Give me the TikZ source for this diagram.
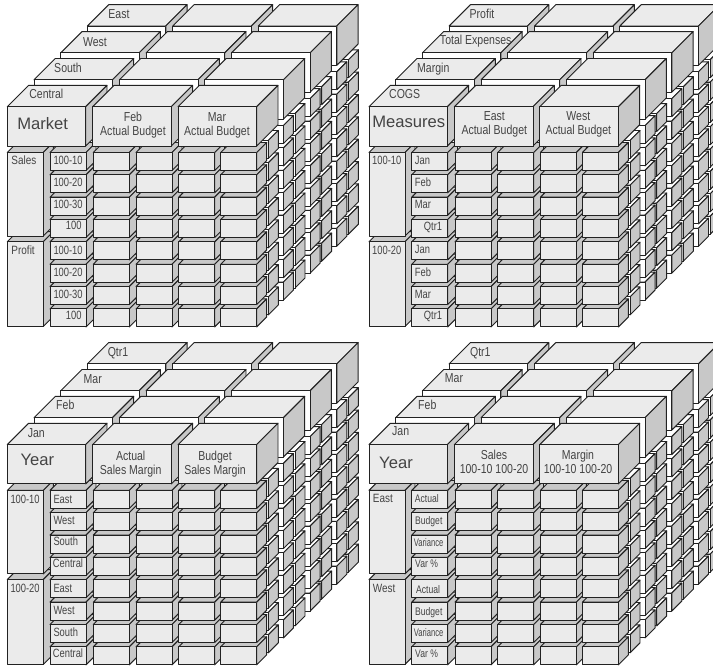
\documentclass[tikz,border=0pt]{standalone}
\usepackage{fontspec}
\setmainfont{Liberation Sans}
\newfontfamily\nara[FakeStretch=0.81]{Liberation Sans}
\newfontfamily\narb[FakeStretch=0.78]{Liberation Sans}
\newfontfamily\narc[FakeStretch=0.69]{Liberation Sans}
\newfontfamily\nard[FakeStretch=0.83]{Liberation Sans}
\definecolor{facegray}{HTML}{EBEBEB}
\definecolor{sidegray}{HTML}{C8C8C8}
\definecolor{edgegray}{HTML}{222222}
\definecolor{txtgray}{HTML}{444444}
% x, y, w, h, depth, front, top, side
\newcommand{\blk}[8]{%
  \filldraw[fill=#7] (#1,#2)--({#1+#5},{#2-#5})--({#1+#3+#5},{#2-#5})--({#1+#3},#2)--cycle;
  \filldraw[fill=#8] ({#1+#3},#2)--({#1+#3+#5},{#2-#5})--({#1+#3+#5},{#2+#4-#5})--({#1+#3},{#2+#4})--cycle;
  \filldraw[fill=#6] (#1,#2) rectangle ({#1+#3},{#2+#4});
}
\newcommand{\cubepanel}[2]{%
  \begin{scope}[shift={(#1,#2)},edgegray,line width=0.95pt,line join=round]
    % three rear layers, far to near
    \foreach \L in {3,2,1}{
      \pgfmathsetmacro{\ox}{26.7*\L}
      \pgfmathsetmacro{\oy}{-26.9*\L}
      \foreach \r in {7,6,...,0}{
        \pgfmathsetmacro{\ry}{152.5+22.35*\r+\oy}
        \blk{\ox+232.3}{\ry-12}{36}{18}{10}{white}{white}{sidegray}
      }
      \foreach \r in {7,6,...,0}{
        \pgfmathsetmacro{\ry}{152.5+22.35*\r+\oy}
        \blk{\ox+220.7}{\ry}{36}{18}{10}{white}{white}{sidegray}
      }
      \blk{\ox+7.3}{\oy+106.7}{78.4}{39.3}{21.3}{white}{facegray}{sidegray}
      \blk{\ox+92.7}{\oy+106.7}{78.6}{39.3}{21.3}{white}{facegray}{sidegray}
      \blk{\ox+178.1}{\oy+106.7}{78.6}{39.3}{21.3}{white}{facegray}{sidegray}
    }
    % second slice of the front layer
    \foreach \r in {7,6,...,0}{
      \pgfmathsetmacro{\ry}{152.5+22.35*\r}
      \blk{232.3}{\ry-12}{36}{18}{10}{white}{white}{sidegray}
    }
    % front layer: tall side blocks
    \blk{7.3}{241.7}{36}{84.8}{10}{facegray}{sidegray}{sidegray}
    \blk{7.3}{152.5}{36}{83.5}{10}{facegray}{sidegray}{sidegray}
    % front layer: cells, left to right, bottom to top
    \foreach \cx in {50,93.3,136,178.7,220.7}{
      \foreach \r in {7,6,...,0}{
        \pgfmathsetmacro{\ry}{152.5+22.35*\r}
        \blk{\cx}{\ry}{36}{18}{10}{facegray}{sidegray}{sidegray}
      }
    }
    % front layer: headers
    \blk{7.3}{106.7}{78.4}{39.3}{21.3}{facegray}{facegray}{sidegray}
    \blk{92.7}{106.7}{78.6}{39.3}{21.3}{facegray}{facegray}{sidegray}
    \blk{178.1}{106.7}{78.6}{39.3}{21.3}{facegray}{facegray}{sidegray}
  \end{scope}
}
\tikzset{
  lab/.style={inner sep=0pt,text=txtgray},
  toplab/.style={lab,anchor=mid,font=\nara\fontsize{13}{14}\selectfont},
  bigl/.style={lab,anchor=mid,font=\fontsize{16.6}{18}\selectfont},
  headl/.style={lab,anchor=mid,font=\nara\fontsize{13}{14}\selectfont},
  rowl/.style={lab,anchor=mid west,font=\narb\fontsize{12}{13}\selectfont},
  rowr/.style={lab,anchor=mid east,font=\narb\fontsize{12}{13}\selectfont},
  talll/.style={lab,anchor=mid west,font=\nard\fontsize{12}{13}\selectfont},
  smalll/.style={lab,anchor=mid west,font=\narb\fontsize{11}{13}\selectfont},
  tinyl/.style={lab,anchor=mid west,font=\narc\fontsize{11}{13}\selectfont},
}
\begin{document}
\begin{tikzpicture}[x=1pt,y=-1pt]
\useasboundingbox (0,0) rectangle (713,666);
\clip (0,0) rectangle (713,666);
\cubepanel{0}{0}
\cubepanel{361.7}{0}
\cubepanel{0}{337.9}
\cubepanel{361.7}{337.9}
% panel 1
\node[toplab] (aeast) at (119,15.7) {East};
\node[toplab] (awest) at (95,43.7) {West};
\node[toplab] (asouth) at (68,69.7) {South};
\node[toplab] (acentral) at (46.3,96) {Central};
\node[bigl] (amarket) at (42.7,126.7) {Market};
\node[headl] (afeb) at (133,119) {Feb};
\node[headl] (afebs) at (133,133) {Actual Budget};
\node[headl] (amar) at (217,119) {Mar};
\node[headl] (amars) at (217,133) {Actual Budget};
\node[talll] (asales) at (11.3,162) {Sales};
\node[talll] (aprofit) at (11.3,252) {Profit};
\node[rowl] (ar0) at (53.3,162) {100-10};
\node[rowl] (ar1) at (53.3,184) {100-20};
\node[rowl] (ar2) at (53.3,206) {100-30};
\node[rowr] (ar3) at (81.7,227) {100};
\node[rowl] (ar4) at (53.3,252) {100-10};
\node[rowl] (ar5) at (53.3,274) {100-20};
\node[rowl] (ar6) at (53.3,296) {100-30};
\node[rowr] (ar7) at (81.7,317) {100};
% panel 2
\node[toplab] (bprofit) at (482,15.7) {Profit};
\node[toplab] (btotal) at (475.7,42) {Total Expenses};
\node[toplab] (bmargin) at (433.3,70) {Margin};
\node[toplab] (bcogs) at (404.7,96) {COGS};
\node[bigl] (bmeasures) at (408.7,125.3) {Measures};
\node[headl] (beast) at (494.3,118) {East};
\node[headl] (beasts) at (494.3,132) {Actual Budget};
\node[headl] (bwest) at (578.3,118) {West};
\node[headl] (bwests) at (578.3,132) {Actual Budget};
\node[rowl] (bh0) at (372,162) {100-10};
\node[rowl] (bh1) at (372,252) {100-20};
\node[rowl] (br0) at (414.7,162) {Jan};
\node[rowl] (br1) at (414.7,184) {Feb};
\node[rowl] (br2) at (414.7,206) {Mar};
\node[rowr] (br3) at (442.3,228) {Qtr1};
\node[rowl] (br4) at (414.7,251) {Jan};
\node[rowl] (br5) at (414.7,274) {Feb};
\node[rowl] (br6) at (414.7,296) {Mar};
\node[rowr] (br7) at (442.3,317) {Qtr1};
% panel 3
\node[toplab] (cqtr) at (118,354) {Qtr1};
\node[toplab] (cmar) at (92.7,380.7) {Mar};
\node[toplab] (cfeb) at (65.3,407) {Feb};
\node[toplab] (cjan) at (36.3,435) {Jan};
\node[bigl] (cyear) at (37.3,463.3) {Year};
\node[headl] (cact) at (130.7,458) {Actual};
\node[headl] (cacts) at (130.7,471.7) {Sales Margin};
\node[headl] (cbud) at (215,458) {Budget};
\node[headl] (cbuds) at (215,471.7) {Sales Margin};
\node[rowl] (ch0) at (10.3,501) {100-10};
\node[rowl] (ch1) at (10.3,590) {100-20};
\node[rowl] (cr0) at (53.3,501) {East};
\node[rowl] (cr1) at (53.3,522) {West};
\node[rowl] (cr2) at (53.3,543) {South};
\node[rowl] (cr3) at (52.7,565) {Central};
\node[rowl] (cr4) at (53.3,590) {East};
\node[rowl] (cr5) at (53.3,612) {West};
\node[rowl] (cr6) at (53.3,634) {South};
\node[rowl] (cr7) at (52.7,655) {Central};
% panel 4
\node[toplab] (dqtr) at (480.3,354) {Qtr1};
\node[toplab] (dmar) at (454,380) {Mar};
\node[toplab] (dfeb) at (427.3,407) {Feb};
\node[toplab] (djan) at (400.7,433) {Jan};
\node[bigl] (dyear) at (396,466) {Year};
\node[headl] (dsal) at (494,457) {Sales};
\node[headl] (dsals) at (494,471) {100-10 100-20};
\node[headl] (dmarg) at (578,457) {Margin};
\node[headl] (dmargs) at (578,471) {100-10 100-20};
\node[talll] (dh0) at (372.7,500) {East};
\node[talll] (dh1) at (372.7,590) {West};
\node[smalll] (dr0) at (414.7,500) {Actual};
\node[smalll] (dr1) at (415,522) {Budget};
\node[tinyl] (dr2) at (413.7,544) {Variance};
\node[smalll] (dr3) at (415,565) {Var \%};
\node[smalll] (dr4) at (416,591) {Actual};
\node[smalll] (dr5) at (415,613) {Budget};
\node[tinyl] (dr6) at (413.7,634) {Variance};
\node[smalll] (dr7) at (415,655) {Var \%};
\end{tikzpicture}
\end{document}
